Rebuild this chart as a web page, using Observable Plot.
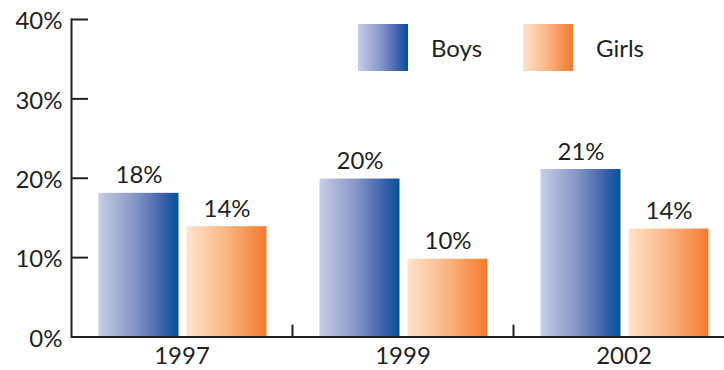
<!DOCTYPE html>
<html>
<head>
<meta charset="utf-8">
<script src="https://cdn.jsdelivr.net/npm/d3@7"></script>
<script src="https://cdn.jsdelivr.net/npm/@observablehq/plot@0.6"></script>
<style>
  html, body { margin: 0; padding: 0; background: #fff; overflow: hidden; }
  #wrap { position: relative; width: 724px; height: 370px; overflow: hidden; font-family: Lato, sans-serif; color: #231f20; }
  #chart svg { max-width: none !important; display: block; }
  .legend { position: absolute; top: 24px; display: flex; align-items: center; font-size: 24px; }
  .sw { width: 50px; height: 47px; margin-right: 23px; }
</style>
</head>
<body>
<svg width="0" height="0" style="position:absolute">
  <defs>
    <linearGradient id="gBoys" x1="0" x2="1" y1="0" y2="0">
      <stop offset="0" stop-color="#c7cde7"/>
      <stop offset="0.45" stop-color="#8896c7"/>
      <stop offset="0.8" stop-color="#3d62aa"/>
      <stop offset="1" stop-color="#0052a0"/>
    </linearGradient>
    <linearGradient id="gGirls" x1="0" x2="1" y1="0" y2="0">
      <stop offset="0" stop-color="#fee3cd"/>
      <stop offset="0.5" stop-color="#f9b582"/>
      <stop offset="1" stop-color="#f37a2b"/>
    </linearGradient>
  </defs>
</svg>
<div id="wrap">
  <div id="chart"></div>
  <div class="legend" style="left:358px"><div class="sw" style="background:linear-gradient(to right,#c7cde7,#8896c7 45%,#3d62aa 80%,#0052a0)"></div><span>Boys</span></div>
  <div class="legend" style="left:523px"><div class="sw" style="background:linear-gradient(to right,#fee3cd,#f9b582 50%,#f37a2b)"></div><span>Girls</span></div>
</div>
<script>
const years = ["1997", "1999", "2002"];
const boys = [18.1, 19.9, 21.1];
const girls = [13.9, 9.8, 13.6];
const yTicks = [0, 10, 20, 30, 40];

const boysData = years.map((year, i) => ({year, value: boys[i]}));
const girlsData = years.map((year, i) => ({year, value: girls[i]}));

const W = 734, ML = 71;
const band = (W - ML) / years.length;
const ink = "#231f20";
const fmt = d => Math.round(d) + "%";

const chart = Plot.plot({
  width: W,
  height: 370,
  marginLeft: ML,
  marginRight: 0,
  marginTop: 19,
  marginBottom: 33.5,
  style: {fontFamily: "Lato, sans-serif", fontSize: "24px", color: ink, background: "transparent", maxWidth: "none"},
  x: {domain: years, padding: 0, label: null},
  y: {domain: [0, 40], label: null},
  marks: [
    Plot.barY(boysData, {x: "year", y: "value", insetLeft: 27.5, insetRight: band - 107.5, fill: "url(#gBoys)"}),
    Plot.barY(girlsData, {x: "year", y: "value", insetLeft: 115.5, insetRight: band - 195.5, fill: "url(#gGirls)"}),
    Plot.text(boysData, {x: "year", y: "value", text: d => fmt(d.value), dx: 67.5 - band / 2, dy: -10, lineAnchor: "bottom", fill: ink, fontSize: 24}),
    Plot.text(girlsData, {x: "year", y: "value", text: d => fmt(d.value), dx: 155.5 - band / 2, dy: -10, lineAnchor: "bottom", fill: ink, fontSize: 24}),
    Plot.axisY({ticks: yTicks, tickSize: 0, tickPadding: 9, dy: 2, tickFormat: d => d + "%", fill: ink, fontSize: 24}),
    Plot.axisY({ticks: yTicks, tickSize: -17, tickFormat: () => "", stroke: ink, strokeWidth: 2}),
    Plot.axisX({tickSize: 0, tickPadding: 10, fill: ink, fontSize: 24}),
    Plot.ruleX(years.slice(1), {x: d => d, y1: 0, y2: 1.5, dx: -band / 2, stroke: ink, strokeWidth: 2}),
    Plot.frame({anchor: "left", stroke: ink, strokeWidth: 2}),
    Plot.ruleY([0], {stroke: ink, strokeWidth: 2})
  ]
});
document.getElementById("chart").appendChild(chart);
</script>
</body>
</html>
